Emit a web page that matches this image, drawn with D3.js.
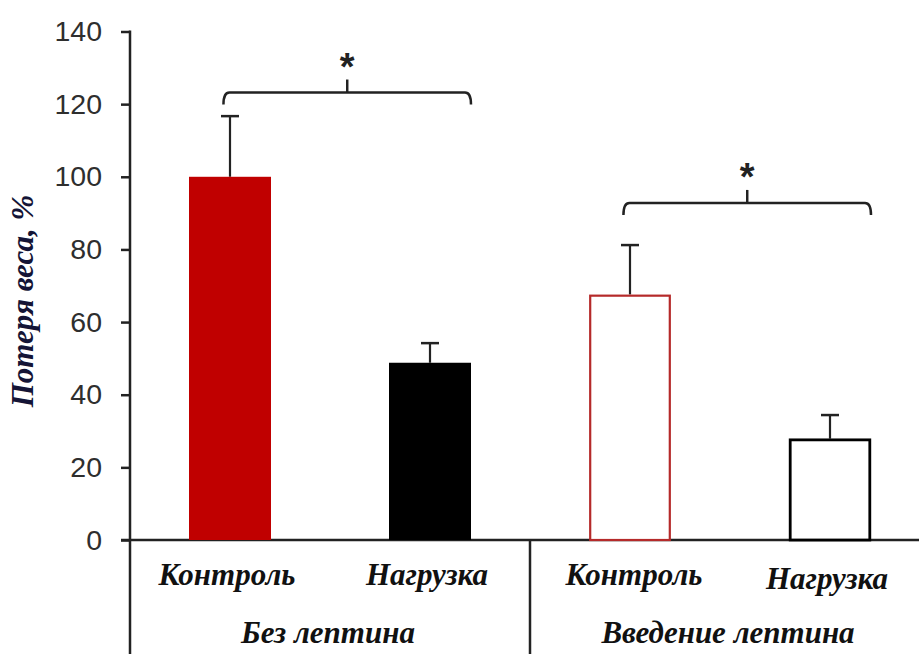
<!DOCTYPE html>
<html><head><meta charset="utf-8">
<script src="https://cdn.jsdelivr.net/npm/d3@7"></script>
<style>body{margin:0;background:#fff}</style>
</head><body>
<svg id="c" width="919" height="654"></svg>
<script>
const categories = ["Контроль", "Нагрузка", "Контроль", "Нагрузка"];
const groups = ["Без лептина", "Введение лептина"];
const values = [100, 48.8, 67.6, 27.9];
const errors = [16.7, 5.4, 13.6, 6.5];
const fills = ["#c00000", "#000000", "#ffffff", "#ffffff"];
const strokes = ["#c00000", "#000000", "#b52a2a", "#000000"];
const yTicks = [0, 20, 40, 60, 80, 100, 120, 140];
const brackets = [{from: 0, to: 1, level: 123.2, label: "*"}, {from: 2, to: 3, level: 92.8, label: "*"}];
const yLabel = "Потеря веса, %";

const W = 919, H = 654;
const svg = d3.select("#c");
const y = d3.scaleLinear().domain([0, 140]).range([540, 31.5]);
const idx = d3.range(categories.length);
const x = d3.scaleBand().domain(idx).range([130, 930]).paddingInner(0.59).paddingOuter(0.295);
const bw = x.bandwidth();
const axisX = 130;

// y axis
const ya = svg.append("g").attr("transform", `translate(${axisX},0)`)
  .call(d3.axisLeft(y).tickValues(yTicks).tickSize(9).tickPadding(19));
ya.select(".domain").remove();
ya.selectAll(".tick line").attr("stroke", "#222").attr("stroke-width", 2.5);
ya.selectAll(".tick text").attr("fill", "#2e2e2e").attr("font-family", "Liberation Sans, Arial, sans-serif")
  .attr("font-size", 28.5);

// axis lines
svg.append("line").attr("x1", axisX).attr("x2", axisX).attr("y1", y(140) - 1).attr("y2", H)
  .attr("stroke", "#222").attr("stroke-width", 2.5);
svg.append("line").attr("x1", axisX - 9).attr("x2", W).attr("y1", y(0)).attr("y2", y(0))
  .attr("stroke", "#222").attr("stroke-width", 2.5);
// group divider
const divX = (x(1) + bw + x(2)) / 2;
svg.append("line").attr("x1", divX).attr("x2", divX).attr("y1", y(0)).attr("y2", H)
  .attr("stroke", "#222").attr("stroke-width", 2.5);

// error bars
idx.forEach(i => {
  const cx = x(i) + bw / 2;
  svg.append("line").attr("x1", cx).attr("x2", cx).attr("y1", y(values[i])).attr("y2", y(values[i] + errors[i]))
    .attr("stroke", "#222").attr("stroke-width", 2.2);
  svg.append("line").attr("x1", cx - 9).attr("x2", cx + 9).attr("y1", y(values[i] + errors[i])).attr("y2", y(values[i] + errors[i]))
    .attr("stroke", "#222").attr("stroke-width", 2.5);
});

// bars
svg.selectAll("rect.bar").data(idx).join("rect").attr("class", "bar")
  .attr("x", i => x(i) + (fills[i] === "#ffffff" ? 1.2 : 0))
  .attr("width", i => bw - (fills[i] === "#ffffff" ? 2.4 : 0))
  .attr("y", i => y(values[i]) + (fills[i] === "#ffffff" ? 1.2 : 0))
  .attr("height", i => y(0) - y(values[i]) - (fills[i] === "#ffffff" ? 1.2 : 0))
  .attr("fill", i => fills[i])
  .attr("stroke", i => fills[i] === "#ffffff" ? strokes[i] : "none")
  .attr("stroke-width", i => i === 2 ? 2.2 : 2.8);

// brackets
brackets.forEach(b => {
  const x1 = x(b.from) + bw * 0.42, x2 = x(b.to) + bw;
  const yb = y(b.level), drop = 12, r = 6;
  const p = d3.path();
  p.moveTo(x1, yb + drop); p.quadraticCurveTo(x1, yb, x1 + r, yb);
  p.lineTo(x2 - r, yb); p.quadraticCurveTo(x2, yb, x2, yb + drop);
  svg.append("path").attr("d", p.toString()).attr("fill", "none").attr("stroke", "#222").attr("stroke-width", 2.5);
  const mx = (x1 + x2) / 2;
  svg.append("line").attr("x1", mx).attr("x2", mx).attr("y1", yb).attr("y2", yb - 13)
    .attr("stroke", "#222").attr("stroke-width", 2.5);
  svg.append("text").attr("x", mx).attr("y", yb - 13).attr("text-anchor", "middle")
    .attr("font-family", "Liberation Sans, Arial, sans-serif").attr("font-weight", "bold")
    .attr("font-size", 38).attr("fill", "#222").text(b.label);
});

// category labels
const serif = "Liberation Serif, Times New Roman, serif";
svg.selectAll("text.cat").data(idx).join("text").attr("class", "cat")
  .attr("x", i => x(i) + bw / 2 + (i === 2 ? 4 : -3)).attr("y", i => i === 3 ? 589 : 585)
  .attr("text-anchor", "middle").attr("font-family", serif).attr("font-style", "italic")
  .attr("font-weight", "bold").attr("font-size", 31).attr("fill", "#111")
  .text(i => categories[i]);

// group labels
groups.forEach((g, k) => {
  const cx = (x(2 * k) + x(2 * k + 1) + bw) / 2;
  svg.append("text").attr("x", cx - 2).attr("y", 643).attr("text-anchor", "middle")
    .attr("font-family", serif).attr("font-style", "italic").attr("font-weight", "bold")
    .attr("font-size", 31).attr("fill", "#111").text(g);
});

// y label
svg.append("text").attr("transform", "translate(33,301) rotate(-90)").attr("text-anchor", "middle")
  .attr("font-family", serif).attr("font-style", "italic").attr("font-weight", "bold")
  .attr("font-size", 31).attr("fill", "#141436").text(yLabel);
</script>
</body></html>
